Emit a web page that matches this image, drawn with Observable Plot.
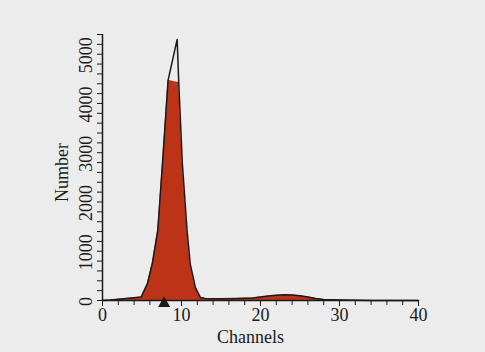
<!DOCTYPE html>
<html>
<head>
<meta charset="utf-8">
<script src="https://cdn.jsdelivr.net/npm/d3@7"></script>
<script src="https://cdn.jsdelivr.net/npm/@observablehq/plot@0.6"></script>
<style>
  html, body { margin: 0; padding: 0; background: #ececec; }
  #chart svg { display: block; }
</style>
</head>
<body>
<div id="chart"></div>
<script>
// Channel positions (x) and histogram counts
const channels    = [0, 1, 2, 3, 4, 4.9, 5.7, 6.3, 7, 7.6, 8.3, 9.45, 9.65, 10.1, 10.7, 11.1, 11.75, 12.4, 13, 15, 17, 19, 20, 21, 22, 23, 24, 25, 26, 27, 28, 30, 32, 34, 40];
// Outline (total) counts
const counts      = [0, 10, 25, 40, 55, 70, 350, 750, 1430, 2800, 4470, 5300, 4430, 2800, 1430, 750, 265, 60, 40, 35, 40, 50, 70, 90, 105, 115, 110, 95, 70, 40, 20, 10, 5, 0, 0];
// Filled (red) counts
const fillCounts  = [0, 10, 25, 40, 55, 70, 350, 750, 1430, 2800, 4470, 4430, 4430, 2800, 1430, 750, 265, 60, 40, 35, 40, 50, 70, 90, 105, 115, 110, 95, 70, 40, 20, 10, 5, 0, 0];

const markerChannels = [7.8];

const xTicks = [0, 10, 20, 30, 40];
const xMinorTicks = [0, 2, 4, 6, 8, 10, 12, 14, 16, 18, 20, 22, 24, 26, 28, 30, 32, 34, 36, 38, 40];
const yTicks = [0, 1000, 2000, 3000, 4000, 5000];
const yMinorTicks = [0, 200, 400, 600, 800, 1000, 1200, 1400, 1600, 1800, 2000, 2200, 2400, 2600, 2800, 3000, 3200, 3400, 3600, 3800, 4000, 4200, 4400, 4600, 4800, 5000, 5200, 5400];

const xLabel = "Channels";
const yLabel = "Number";

const ink = "#1a1a1a";
const font = "'Liberation Serif', 'DejaVu Serif', serif";
const fs = 18;

const chart = Plot.plot({
  width: 485,
  height: 352,
  marginLeft: 102,
  marginRight: 67,
  marginTop: 34,
  marginBottom: 52,
  x: {domain: [0, 40]},
  y: {domain: [0, 5400]},
  style: {background: "#ececec", fontFamily: font, fontSize: fs + "px", color: ink},
  marks: [
    Plot.areaY(channels, {x: d => d, y: (d, i) => fillCounts[i], fill: "#bd3318", curve: "linear"}),
    Plot.lineY(channels, {x: d => d, y: (d, i) => counts[i], stroke: ink, strokeWidth: 1.5, curve: "linear"}),
    Plot.ruleY([0], {stroke: ink, strokeWidth: 1.5}),
    Plot.ruleX([0], {stroke: ink, strokeWidth: 1.5}),
    Plot.axisX({ticks: xMinorTicks, tickSize: 5, tickFormat: () => "", label: null, stroke: ink}),
    Plot.axisX({ticks: xTicks, tickSize: 6, tickPadding: 2, fontSize: fs, label: null, stroke: ink, fill: ink}),
    Plot.axisY({ticks: yMinorTicks, tickSize: 5, tickFormat: () => "", label: null, stroke: ink}),
    Plot.text(yTicks, {frameAnchor: "left", y: d => d, text: d => String(d), rotate: -90, textAnchor: "middle", dx: -16, dy: 1, fontSize: fs, fill: ink}),
    Plot.text([yLabel], {frameAnchor: "left", text: d => d, rotate: -90, textAnchor: "middle", dx: -40, dy: 5, fontSize: fs, fill: ink}),
    Plot.text([xLabel], {frameAnchor: "bottom", text: d => d, textAnchor: "middle", dx: -10, dy: 42, fontSize: fs, fill: ink}),
    Plot.dot(markerChannels, {x: d => d, y: 0, symbol: "triangle", r: 4.5, fill: ink, dy: 3})
  ]
});

document.getElementById("chart").appendChild(chart);
</script>
</body>
</html>
